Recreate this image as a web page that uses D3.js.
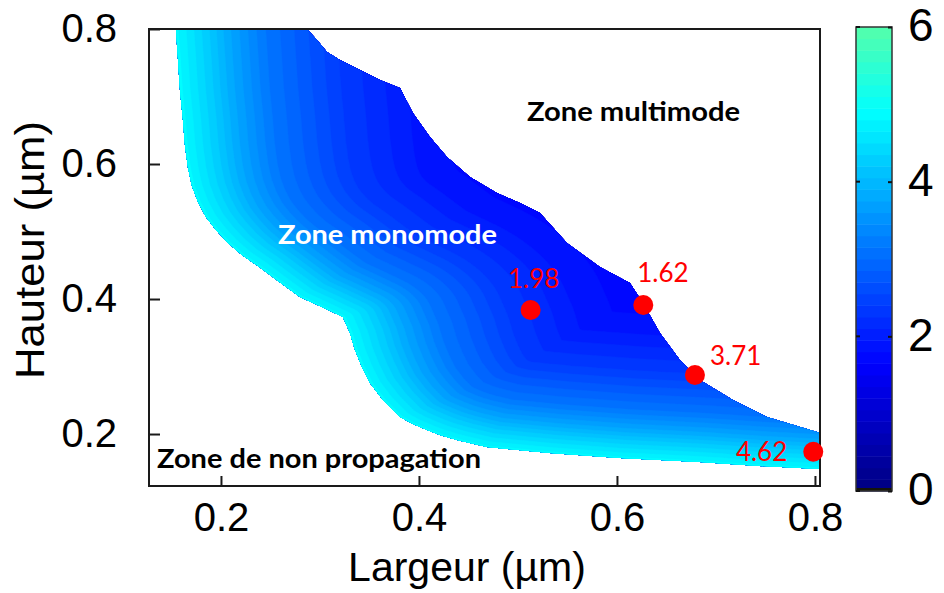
<!DOCTYPE html>
<html><head><meta charset="utf-8">
<script src="https://cdn.jsdelivr.net/npm/d3@7"></script>
<style>body{margin:0;background:#fff} svg{display:block}</style>
</head><body>
<svg id="chart" width="944" height="593"></svg>
<script>
// ---------------- data ----------------
const xTicks = [0.2, 0.4, 0.6, 0.8];
const yTicks = [0.2, 0.4, 0.6, 0.8];
const colorTicks = [0, 2, 4, 6];
// lower boundary (non-propagation cut-off): width, height (µm)
const lowerX = [0.1545,0.1566,0.1586,0.1616,0.1636,0.1667,0.1707,0.1768,0.1848,0.1949,0.2071,0.2212,0.2374,0.2576,0.2798,0.3020,0.3232,0.3303,0.3354,0.3424,0.3505,0.3636,0.3808,0.3939,0.4081,0.4212,0.4384,0.4687,0.5323,0.6030,0.6838,0.7444,0.8051];
const lowerY = [0.8000,0.7541,0.7096,0.6652,0.6281,0.5941,0.5674,0.5437,0.5215,0.5022,0.4830,0.4652,0.4489,0.4267,0.4030,0.3881,0.3733,0.3496,0.3244,0.2993,0.2756,0.2504,0.2252,0.2148,0.2059,0.1985,0.1911,0.1807,0.1719,0.1644,0.1585,0.1526,0.1481];
// upper boundary (multimode cut-off)
const upperX = [0.2869,0.2970,0.3071,0.3202,0.3404,0.3606,0.3808,0.3939,0.4111,0.4283,0.4515,0.4788,0.5020,0.5222,0.5495,0.5828,0.6131,0.6263,0.6434,0.6636,0.6838,0.7172,0.7515,0.8020,0.8051];
const upperY = [0.8000,0.7837,0.7659,0.7541,0.7393,0.7244,0.7126,0.6756,0.6400,0.6104,0.5807,0.5570,0.5422,0.5274,0.4830,0.4474,0.4237,0.3941,0.3496,0.3096,0.2800,0.2504,0.2252,0.2030,0.2015];
const profileDist  = [0, 0.027, 0.042, 0.071, 0.10, 0.13, 0.16, 0.19, 0.25, 0.32, 0.45];
const profileValue = [4.85, 4.2, 3.8, 3.17, 2.79, 2.4, 2.15, 1.9, 1.65, 1.5, 1.35];
const widthWeight = 0.8;   // horizontal distances weigh less than vertical ones
// marked points
const pointX = [0.5128, 0.6266, 0.6788, 0.7983];
const pointY = [0.3837, 0.3911, 0.2874, 0.1738];
const pointLabels = ["1.98", "1.62", "3.71", "4.62"];
const zoneLabels = ["Zone multimode", "Zone monomode", "Zone de non propagation"];
// colour map (jet segment)
const colorStops = [0, 1.64, 4.9, 6];
const colorStopColors = ["#000080", "#0000ff", "#00ffff", "#55ffaa"];
const bandStep = 0.15;

// ---------------- layout ----------------
const svg = d3.select("#chart");
const L = 149, R = 820, T = 29, B = 486;
const x = d3.scaleLinear().domain([0.1273, 0.8051]).range([L, R]);
const y = d3.scaleLinear().domain([0.1230, 0.8000]).range([B, T]);
const color = d3.scaleLinear().domain(colorStops).range(colorStopColors).interpolate(d3.interpolateRgb).clamp(true);
const thresholds = d3.range(0, 6 - 1e-9, bandStep);

// ---------------- field ----------------
const lower = lowerX.map((v, i) => [v, lowerY[i]]);
const upper = upperX.map((v, i) => [v, upperY[i]]);
const prof = d3.scaleLinear().domain(profileDist).range(profileValue).clamp(true);
function segDist(px, py, ax, ay, bx, by) {
  px *= widthWeight; ax *= widthWeight; bx *= widthWeight;
  const vx = bx - ax, vy = by - ay, wx = px - ax, wy = py - ay;
  const l2 = vx * vx + vy * vy;
  let t = l2 > 0 ? (wx * vx + wy * vy) / l2 : 0;
  t = Math.max(0, Math.min(1, t));
  const dx = wx - t * vx, dy = wy - t * vy;
  return Math.sqrt(dx * dx + dy * dy);
}
const cell = 2;
const nx = Math.ceil((R - L) / cell) + 1, ny = Math.ceil((B - T) / cell) + 1;
const values = new Float64Array(nx * ny);
for (let j = 0; j < ny; j++) {
  const dy = y.invert(T + (j + 0.5) * cell);
  for (let i = 0; i < nx; i++) {
    const dx = x.invert(L + (i + 0.5) * cell);
    let m = Infinity;
    for (let k = 0; k < lower.length - 1; k++) {
      const d = segDist(dx, dy, lower[k][0], lower[k][1], lower[k + 1][0], lower[k + 1][1]);
      if (d < m) m = d;
    }
    values[j * nx + i] = prof(m);
  }
}
const contours = d3.contours().size([nx, ny]).thresholds(thresholds)(values);
const gpath = d3.geoPath(d3.geoIdentity().scale(cell).translate([L, T]));

const line = d3.line().x(d => x(d[0])).y(d => y(d[1]));
const region = lower.concat(upper.slice().reverse());
svg.append("clipPath").attr("id", "regionClip").append("path").attr("d", line(region) + "Z");

svg.append("g").attr("clip-path", "url(#regionClip)")
  .selectAll("path").data(contours).join("path")
  .attr("d", gpath)
  .attr("fill", d => color(d.value + bandStep / 2))
  .attr("stroke", d => color(d.value + bandStep / 2))
  .attr("stroke-width", 0.4);

// ---------------- frame & axes ----------------
svg.append("rect").attr("x", L).attr("y", T).attr("width", R - L).attr("height", B - T)
  .attr("fill", "none").attr("stroke", "#1a1a1a").attr("stroke-width", 2);

const fmt = d3.format(".1f");
const ax = svg.append("g").attr("transform", `translate(0,${B})`)
  .call(d3.axisBottom(x).tickValues(xTicks).tickFormat(fmt).tickSizeInner(-10).tickSizeOuter(0).tickPadding(17));
const ay = svg.append("g").attr("transform", `translate(${L},0)`)
  .call(d3.axisLeft(y).tickValues(yTicks).tickFormat(fmt).tickSizeInner(-11).tickSizeOuter(0).tickPadding(32));
[ax, ay].forEach(g => {
  g.select(".domain").remove();
  g.selectAll(".tick line").attr("stroke", "#1a1a1a").attr("stroke-width", 2);
  g.selectAll(".tick text").attr("font-family", "'Liberation Sans', Arial, sans-serif")
    .attr("font-size", 40).attr("fill", "#000");
});

svg.append("text").attr("x", 467).attr("y", 581).attr("text-anchor", "middle")
  .attr("font-family", "'Liberation Sans', Arial, sans-serif").attr("font-size", 41)
  .text("Largeur (µm)");
svg.append("text").attr("transform", "translate(44,250) rotate(-90)").attr("text-anchor", "middle")
  .attr("font-family", "'Liberation Sans', Arial, sans-serif").attr("font-size", 41)
  .attr("textLength", 258).attr("lengthAdjust", "spacingAndGlyphs")
  .text("Hauteur (µm)");

// ---------------- zone labels ----------------
const zoneLayout = [
  {x: 527, y: 121, w: 213, fill: "#000"},
  {x: 278, y: 244, w: 219, fill: "#fff"},
  {x: 157, y: 468, w: 324, fill: "#000"}
];
svg.append("g").selectAll("text").data(zoneLabels).join("text")
  .attr("x", (d, i) => zoneLayout[i].x).attr("y", (d, i) => zoneLayout[i].y)
  .attr("textLength", (d, i) => zoneLayout[i].w).attr("lengthAdjust", "spacingAndGlyphs")
  .attr("fill", (d, i) => zoneLayout[i].fill)
  .attr("font-family", "Lato, 'Open Sans', sans-serif").attr("font-weight", 700).attr("font-size", 27)
  .text(d => d);

// ---------------- points ----------------
const pts = pointX.map((v, i) => ({x: v, y: pointY[i], label: pointLabels[i]}));
const labelLayout = [
  {dx: 3, dy: -22, anchor: "middle"},
  {dx: -6, dy: -23, anchor: "start"},
  {dx: 15, dy: -10, anchor: "start"},
  {dx: -26, dy: 9, anchor: "end"}
];
svg.append("g").selectAll("circle").data(pts).join("circle")
  .attr("cx", d => x(d.x)).attr("cy", d => y(d.y)).attr("r", 10).attr("fill", "#ff0000");
svg.append("g").selectAll("text").data(pts).join("text")
  .attr("x", (d, i) => x(d.x) + labelLayout[i].dx).attr("y", (d, i) => y(d.y) + labelLayout[i].dy)
  .attr("text-anchor", (d, i) => labelLayout[i].anchor)
  .attr("fill", "#ff0000").attr("font-family", "Lato, 'Open Sans', sans-serif").attr("font-size", 26)
  .text(d => d.label);

// ---------------- colour bar ----------------
const cbX = 856, cbW = 36, cbTop = 27, cbBot = 491;
const cy = d3.scaleLinear().domain([0, 6]).range([cbBot, cbTop]);
const cb = svg.append("g");
cb.selectAll("rect.band").data(thresholds).join("rect").attr("class", "band")
  .attr("x", cbX).attr("width", cbW)
  .attr("y", d => cy(Math.min(6, d + bandStep)))
  .attr("height", d => cy(d) - cy(Math.min(6, d + bandStep)) + 0.5)
  .attr("fill", d => color(d + bandStep / 2));
cb.append("rect").attr("x", cbX).attr("y", cbBot - 3).attr("width", cbW).attr("height", 3).attr("fill", "#15150a");
cb.append("rect").attr("x", cbX).attr("y", cbTop).attr("width", cbW).attr("height", cbBot - cbTop)
  .attr("fill", "none").attr("stroke", "#333").attr("stroke-width", 1.5);
const cbAxis = d3.axisRight(cy).tickValues(colorTicks).tickFormat(d3.format("d"))
  .tickSizeInner(-4).tickSizeOuter(0).tickPadding(16);
const cbg = cb.append("g").attr("transform", `translate(${cbX + cbW},0)`).call(cbAxis);
cbg.select(".domain").remove();
cbg.selectAll(".tick line").attr("stroke", "#111").attr("stroke-width", 2);
cbg.selectAll(".tick text").attr("font-family", "'Liberation Sans', Arial, sans-serif")
  .attr("font-size", 46).attr("fill", "#000").attr("dy", "0.3em");
// left-side ticks
cb.append("g").selectAll("line").data(colorTicks).join("line")
  .attr("x1", cbX).attr("x2", cbX + 4).attr("y1", d => cy(d)).attr("y2", d => cy(d))
  .attr("stroke", "#111").attr("stroke-width", 2);
</script>
</body></html>
